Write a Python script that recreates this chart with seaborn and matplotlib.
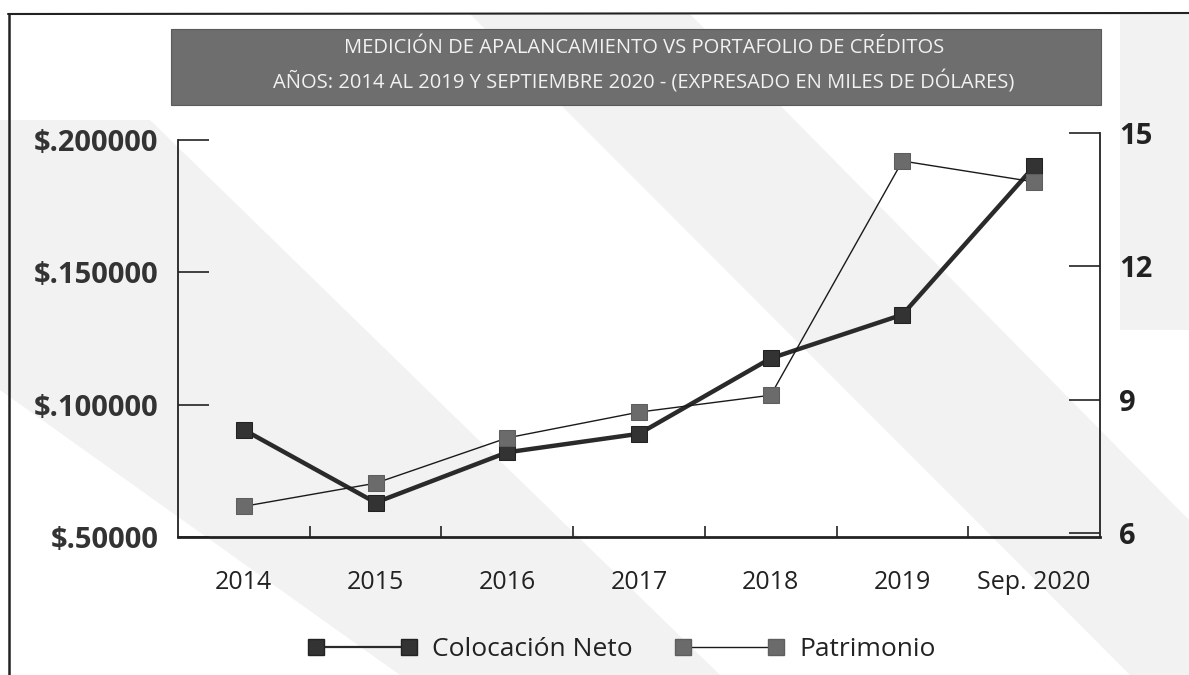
import matplotlib
matplotlib.use("Agg")
import matplotlib.pyplot as plt
import seaborn as sns
import pandas as pd
import numpy as np
from matplotlib.patches import Polygon, Rectangle
from matplotlib.lines import Line2D
from matplotlib.ticker import FixedLocator

categories = ["2014", "2015", "2016", "2017", "2018", "2019", "Sep. 2020"]
colocacion_neto = [90500, 63000, 82000, 89000, 117500, 134000, 190000]
patrimonio = [6.6, 7.12, 8.14, 8.72, 9.1, 14.37, 13.9]
left_ticks = [50000, 100000, 150000, 200000]
left_labels = ["$.50000", "$.100000", "$.150000", "$.200000"]
right_ticks = [6, 9, 12, 15]
title_lines = ["MEDICIÓN DE APALANCAMIENTO VS PORTAFOLIO DE CRÉDITOS",
               "AÑOS: 2014 AL 2019 Y SEPTIEMBRE 2020 - (EXPRESADO EN MILES DE DÓLARES)"]

sns.set_theme(style="white")
plt.rcParams['font.family'] = ['Open Sans', 'DejaVu Sans']

W, H = 1189, 675
fig = plt.figure(figsize=(W / 100, H / 100), dpi=100)
fig.patch.set_facecolor("white")

def fp(x, y):
    return (x / W, 1 - y / H)

# decorative background bands
bands = [
    [(0, 120), (0, 390), (400, 675), (720, 675), (150, 120)],
    [(470, 14), (690, 14), (1189, 520), (1189, 675), (1130, 675)],
    [(1120, 14), (1189, 14), (1189, 330), (1120, 330)],
]
for b in bands:
    fig.patches.append(Polygon([fp(*p) for p in b], closed=True, transform=fig.transFigure,
                               facecolor="#f2f2f2", edgecolor="none", zorder=-10))

# frame lines (left and top)
fig.lines.append(Line2D([9 / W, 9 / W], [0, 1 - 14 / H], transform=fig.transFigure, color="#222222", lw=1.8, zorder=-5))
fig.lines.append(Line2D([8 / W, 1], [1 - 14 / H, 1 - 13 / H], transform=fig.transFigure, color="#222222", lw=1.5, zorder=-5))

# title banner
fig.patches.append(Rectangle(fp(171, 105), (1101 - 171) / W, (105 - 29) / H, transform=fig.transFigure,
                             facecolor="#6e6e6e", edgecolor="#5a5a5a", lw=0.8, zorder=-4))
fig.text(644 / W, 1 - 48 / H, title_lines[0], ha="center", va="center", color="#f2f2f2",
         fontsize=14.5, zorder=-3)
fig.text(644 / W, 1 - 82 / H, title_lines[1], ha="center", va="center", color="#f2f2f2",
         fontsize=14.5, zorder=-3)

ax = fig.add_axes([178 / W, 1 - 537 / H, (1100 - 178) / W, (537 - 140) / H])
ax.set_facecolor("none")
# right axis: its own box (15 at y=133, 6 at y=533), sharing the x scale
ax2 = fig.add_axes([178 / W, 1 - 533 / H, (1100 - 178) / W, (533 - 133) / H], sharex=ax)
ax2.set_facecolor("none")
ax2.yaxis.tick_right()

x = np.arange(len(categories))
df1 = pd.DataFrame({"x": x, "v": colocacion_neto})
df2 = pd.DataFrame({"x": x, "v": patrimonio})

sns.lineplot(data=df2, x="x", y="v", ax=ax2, color="#1a1a1a", lw=1.0, marker="s",
             markersize=11, markerfacecolor="#6b6b6b", markeredgecolor="#5e5e5e", zorder=3)
sns.lineplot(data=df1, x="x", y="v", ax=ax, color="#2a2a2a", lw=3.2, marker="s",
             markersize=11, markerfacecolor="#333333", markeredgecolor="#222222", zorder=4)

ax.set_xlim(-0.5, len(categories) - 0.5)
ax.set_ylim(50000, 200000)
ax2.set_ylim(6, 15)

ax.set_xticks(x)
ax.set_xticklabels(categories, fontsize=18, color="#222222")
ax.xaxis.set_minor_locator(FixedLocator(np.arange(0.5, len(categories) - 0.5, 1)))
ax.tick_params(axis="x", which="major", length=0, pad=24)
ax.tick_params(axis="x", which="minor", direction="in", length=8, width=1.2, color="#222222", bottom=True)
ax2.tick_params(axis="x", which="both", bottom=False, labelbottom=False)

ax.set_yticks(left_ticks)
ax.set_yticklabels(left_labels, fontsize=21, fontweight="bold", color="#333333")
ax.tick_params(axis="y", direction="in", length=22, width=1.2, color="#222222", pad=14, left=True)

ax2.set_yticks(right_ticks)
ax2.set_yticklabels([str(t) for t in right_ticks], fontsize=21, fontweight="bold", color="#222222")
ax2.tick_params(axis="y", direction="in", length=22, width=1.2, color="#222222", pad=14,
                right=True, left=False, labelleft=False, labelright=True)

for a in (ax, ax2):
    a.set_xlabel("")
    a.set_ylabel("")
    for s in a.spines.values():
        s.set_visible(False)
ax.spines["left"].set_visible(True)
ax.spines["bottom"].set_visible(True)
ax2.spines["right"].set_visible(True)
ax2.spines["right"].set_bounds(6 - 4 * 9 / 400, 15)
ax.spines["left"].set_color("#222222")
ax.spines["left"].set_linewidth(1.3)
ax.spines["bottom"].set_color("#222222")
ax.spines["bottom"].set_linewidth(2)
ax2.spines["right"].set_color("#222222")
ax2.spines["right"].set_linewidth(1.3)

h1 = Line2D([], [], color="#2a2a2a", lw=1.6, marker="s", markersize=12,
            markerfacecolor="#333333", markeredgecolor="#222222")
h2 = Line2D([], [], color="#1a1a1a", lw=1.0, marker="s", markersize=12,
            markerfacecolor="#6b6b6b", markeredgecolor="#5e5e5e")
fig.legend([h1, h2], ["Colocación Neto", "Patrimonio"], loc="center",
           bbox_to_anchor=(622 / W, 1 - 650 / H), ncol=2, frameon=False, fontsize=19,
           numpoints=2, handlelength=4.1, columnspacing=1.6, handletextpad=0.6,
           labelcolor="#222222")

fig.savefig("out.png", dpi=100)
